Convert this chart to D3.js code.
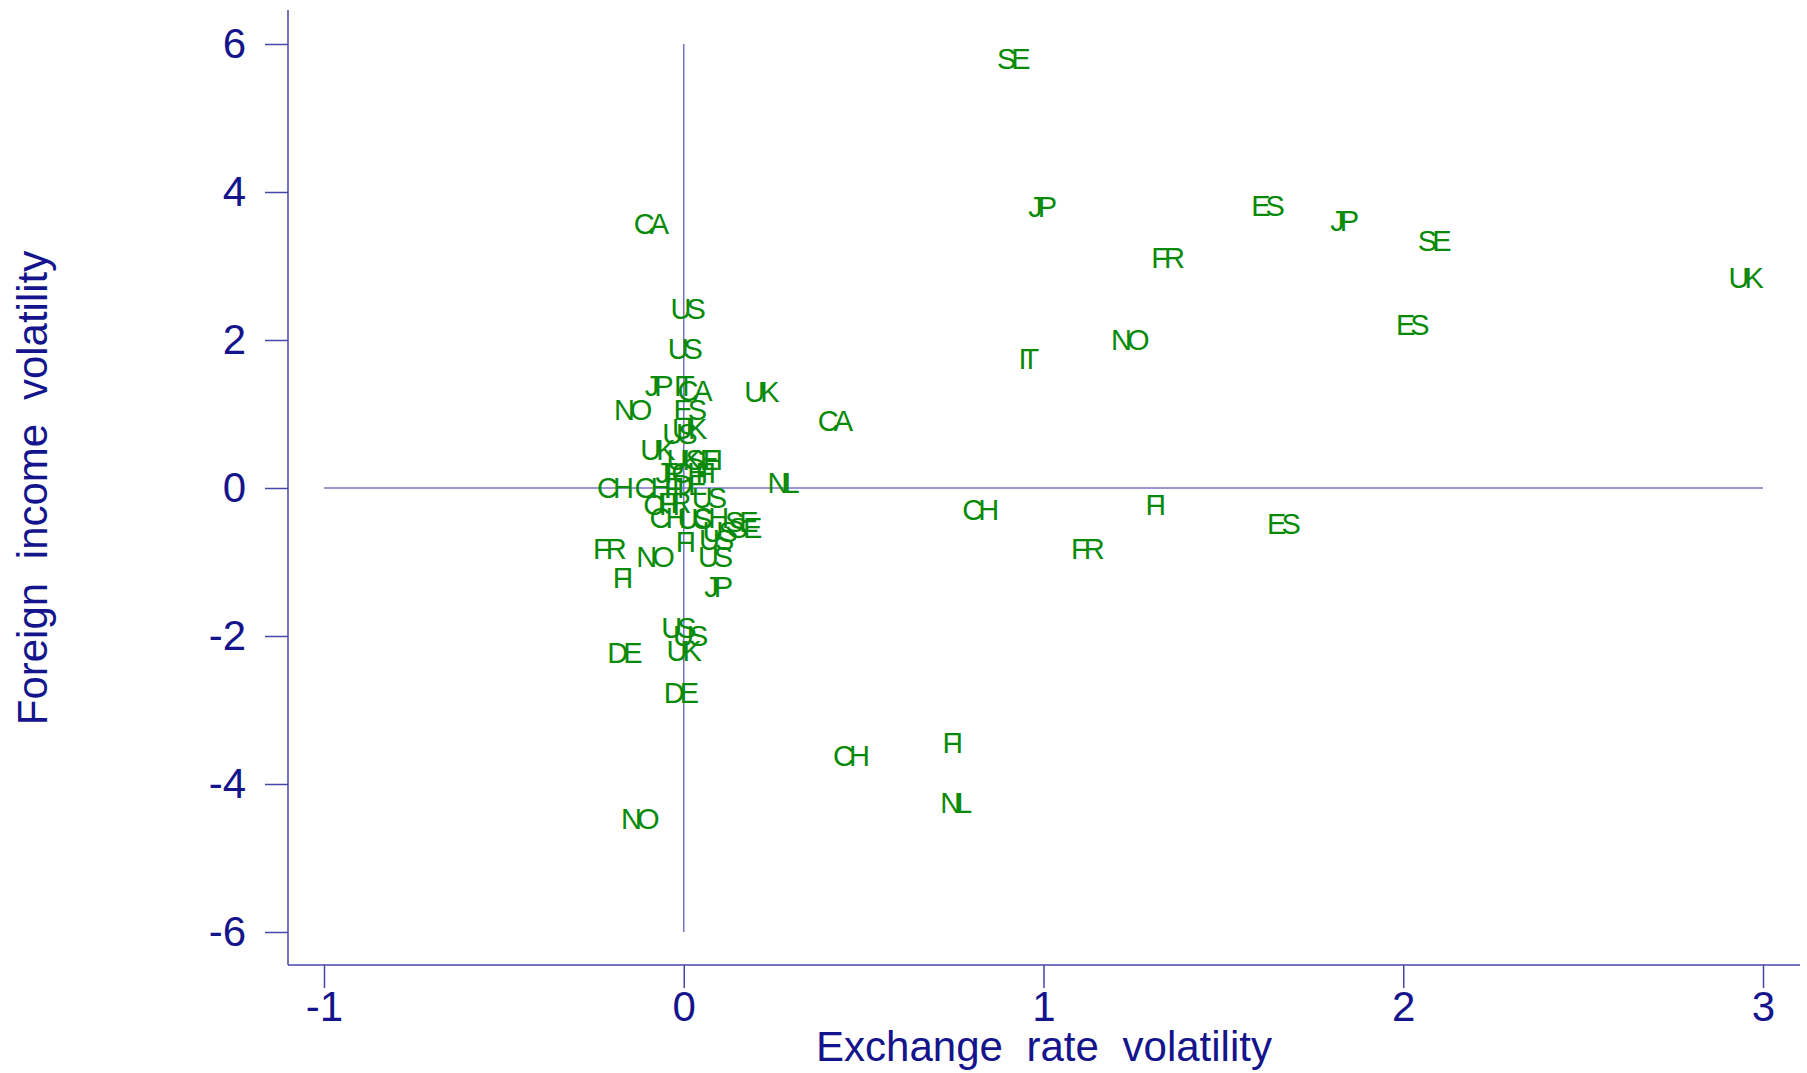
<!DOCTYPE html>
<html>
<head>
<meta charset="utf-8">
<script src="https://cdn.jsdelivr.net/npm/d3@7"></script>
<style>
  html, body { margin: 0; padding: 0; background: #fff; }
  svg { display: block; }
</style>
</head>
<body>
<svg id="chart" width="1807" height="1073"></svg>
<script>
// ---- data ----
const countries = ["SE","JP","ES","JP","SE","FR","UK","ES","NO","IT",
  "CA","US","US","JP","IT","CA","UK","NO","ES","CA",
  "UK","US","UK","UK","SE","FI","JP","CH","FI","CH",
  "CH","FI","DE","US","CH","FR","CH","US","CH","SE",
  "SE","US","FI","US","US","FR","NO","FI","JP","US",
  "US","UK","DE","DE","CH","FI","NL","NO","NL","CH",
  "FI","FR","ES"];
const exchangeVol = [0.916,0.996,1.623,1.836,2.086,1.345,2.952,2.025,1.240,0.958,
  -0.091,0.011,0.003,-0.070,0.000,0.030,0.216,-0.142,0.017,0.420,
  0.015,-0.012,-0.073,0.000,0.050,0.080,-0.040,0.015,0.060,-0.191,
  -0.087,-0.027,0.015,0.070,-0.063,-0.027,-0.045,0.030,0.074,0.160,
  0.170,0.100,0.005,0.090,0.087,-0.207,-0.080,-0.170,0.096,-0.015,
  0.018,0.000,-0.165,-0.008,0.465,0.747,0.756,-0.122,0.276,0.824,
  1.311,1.122,1.667];
const incomeVol = [5.81,3.80,3.82,3.61,3.35,3.12,2.84,2.21,2.00,1.75,
  3.58,2.42,1.89,1.38,1.38,1.32,1.30,1.06,1.06,0.91,
  0.80,0.73,0.52,0.39,0.39,0.38,0.21,0.21,0.21,0.01,
  0.01,0.01,0.04,-0.13,-0.23,-0.20,-0.40,-0.41,-0.40,-0.45,
  -0.53,-0.59,-0.72,-0.69,-0.92,-0.82,-0.92,-1.21,-1.335,-1.89,
  -1.99,-2.19,-2.23,-2.77,-3.61,-3.44,-4.25,-4.47,0.08,-0.29,
  -0.23,-0.82,-0.48];
const xTicks = [-1, 0, 1, 2, 3];
const yTicks = [-6, -4, -2, 0, 2, 4, 6];
const xTitle = "Exchange rate volatility";
const yTitle = "Foreign income volatility";

// ---- styles ----
const navy = "#14148c";
const axisColor = "#4646a8";
const refColor = "#7474c4";
const labelColor = "#078a07";
const font = "'Liberation Sans', Arial, Helvetica, sans-serif";

const svg = d3.select("#chart");
const x = d3.scaleLinear().domain([-1, 3]).range([324, 1763]);
const y = d3.scaleLinear().domain([-6, 6]).range([932, 44]);

const axLeft = 288, axBottom = 965;

// reference lines
svg.append("line")
  .attr("x1", x(-1)).attr("x2", x(3)).attr("y1", y(0)).attr("y2", y(0))
  .attr("stroke", refColor).attr("stroke-width", 1.5);
svg.append("line")
  .attr("x1", x(0)).attr("x2", x(0)).attr("y1", y(-6)).attr("y2", y(6))
  .attr("stroke", refColor).attr("stroke-width", 1.5);

// axes
const gy = svg.append("g").attr("transform", `translate(${axLeft},0)`)
  .call(d3.axisLeft(y).tickValues(yTicks).tickSize(23).tickPadding(19)
    .tickFormat(d => String(d)));
const gx = svg.append("g").attr("transform", `translate(0,${axBottom})`)
  .call(d3.axisBottom(x).tickValues(xTicks).tickSize(23).tickPadding(3)
    .tickFormat(d => String(d)));
[gx, gy].forEach(g => {
  g.select(".domain").remove();
  g.selectAll(".tick line").attr("stroke", axisColor).attr("stroke-width", 1.5);
  g.selectAll(".tick text").attr("fill", navy)
    .style("font-family", font).style("font-size", "42px");
});
svg.append("line").attr("x1", axLeft).attr("x2", axLeft).attr("y1", 10).attr("y2", axBottom)
  .attr("stroke", axisColor).attr("stroke-width", 1.5);
svg.append("line").attr("x1", axLeft).attr("x2", 1800).attr("y1", axBottom).attr("y2", axBottom)
  .attr("stroke", axisColor).attr("stroke-width", 1.5);

// axis titles
svg.append("text")
  .attr("x", 1044).attr("y", 1061)
  .attr("text-anchor", "middle")
  .attr("fill", navy)
  .style("font-family", font).style("font-size", "42px").style("word-spacing", "12px")
  .text(xTitle);
svg.append("text")
  .attr("transform", "translate(47,488) rotate(-90)")
  .attr("text-anchor", "middle")
  .attr("fill", navy)
  .style("font-family", font).style("font-size", "42px").style("word-spacing", "12px")
  .text(yTitle);

// marker labels
const pts = countries.map((c, i) => ({ c, xv: exchangeVol[i], yv: incomeVol[i] }));
svg.append("g").selectAll("text").data(pts).join("text")
  .attr("x", d => x(d.xv) - 2)
  .attr("y", d => y(d.yv))
  .attr("dy", "0.36em")
  .attr("text-anchor", "middle")
  .attr("fill", labelColor)
  .style("font-family", font).style("font-size", "29px").style("letter-spacing", "-5px")
  .text(d => d.c);
</script>
</body>
</html>
